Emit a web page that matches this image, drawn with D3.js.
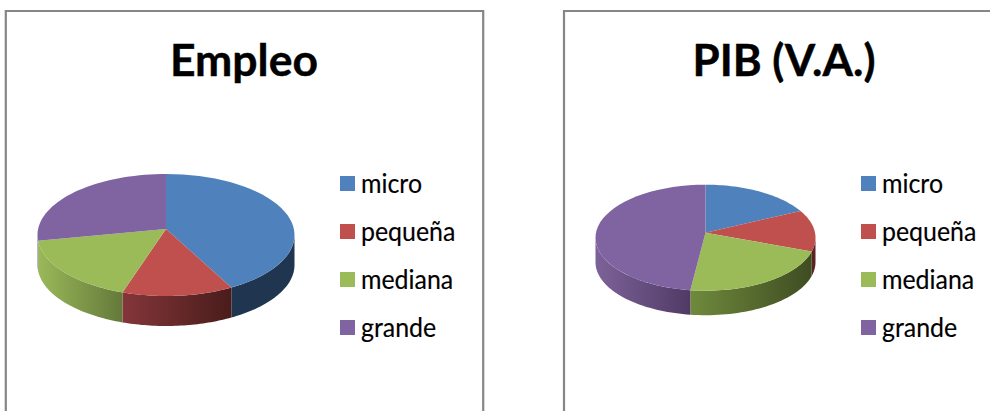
<!DOCTYPE html>
<html><head><meta charset="utf-8">
<script src="https://cdn.jsdelivr.net/npm/d3@7/dist/d3.min.js"></script>
<style>html,body{margin:0;padding:0;background:#fff}svg{display:block}text{font-family:Lato,"Open Sans",sans-serif;fill:#000}</style>
</head><body><svg id="c" width="990" height="411"></svg>
<script>
const categories = ["micro","pequeña","mediana","grande"];
const empleoValues = [41.5,14,18,26.5];
const pibValues = [16.6,12.6,23,47.8];
const topColors = ["#4f81bd","#c0504d","#9bbb59","#8064a2"];
const titles = ["Empleo","PIB (V.A.)"];

const svg = d3.select("#c");
const defs = svg.append("defs");
const charts = [
 {title:titles[0],values:empleoValues,frame:[5.8,11,483.2],tx:244,tw:148,cx:166,cy:235,ay:229,rx:128.5,ry:61,depth:30,lx:340,
  sides:[["#1f3550","#1f3550"],["#84363a","#4a1c1b"],["#9ab959","#64793a"],["#8064a2","#8064a2"]]},
 {title:titles[1],values:pibValues,frame:[564,11,1000],tx:784,tw:183,cx:705.5,cy:237.7,ay:232.7,rx:110,ry:53,depth:24.5,lx:861,
  sides:[["#4f81bd","#4f81bd"],["#5a2422","#5a2422"],["#6f8a3c","#3f4c22"],["#7d6299","#503a65"]]}
];
const legendY = d3.scalePoint().domain(categories).range([184,328]);
const pie = d3.pie().sort(null);
const line = d3.line();

charts.forEach((c,ci)=>{
  const [fx,fy,fr]=c.frame;
  svg.append("path").attr("d",`M${fx},420V${fy}H${fr}V420`).attr("fill","none").attr("stroke","#868686").attr("stroke-width",2.2);
  svg.append("text").attr("x",c.tx).attr("y",75.5).attr("text-anchor","middle").attr("font-size",43).attr("font-weight",700)
    .attr("stroke","#000").attr("stroke-width",0.4).attr("textLength",c.tw).attr("lengthAdjust","spacingAndGlyphs").text(c.title);

  const arcs = pie(c.values);
  const X = d3.scaleLinear().domain([-1,1]).range([c.cx-c.rx,c.cx+c.rx]);
  const Y = d3.scaleLinear().domain([-1,1]).range([c.cy+c.ry,c.cy-c.ry]);
  const pt = (t,dy=0)=>[X(Math.sin(t)),Y(Math.cos(t))+dy];
  const samples = (a,b)=>d3.range(0,41).map(i=>a+(b-a)*i/40);

  arcs.forEach((d,i)=>{
    const a=Math.max(d.startAngle,Math.PI/2), b=Math.min(d.endAngle,Math.PI*1.5);
    if(b<=a) return;
    const ts=samples(a,b);
    const id=`g${ci}${i}`;
    const g=defs.append("linearGradient").attr("id",id).attr("gradientUnits","userSpaceOnUse")
      .attr("x1",pt(a)[0]).attr("x2",pt(b)[0]).attr("y1",0).attr("y2",0);
    g.append("stop").attr("offset",0).attr("stop-color",c.sides[i][1]);
    g.append("stop").attr("offset",1).attr("stop-color",c.sides[i][0]);
    const poly=[...ts.map(t=>pt(t)),...ts.slice().reverse().map(t=>pt(t,c.depth))];
    svg.append("path").attr("d",line(poly)+"Z").attr("fill",`url(#${id})`);
  });
  arcs.forEach((d,i)=>{
    const poly=[[c.cx,c.ay],...samples(d.startAngle,d.endAngle).map(t=>pt(t))];
    svg.append("path").attr("d",line(poly)+"Z").attr("fill",topColors[i]);
  });
  categories.forEach((k,i)=>{
    const y=legendY(k);
    svg.append("rect").attr("x",c.lx).attr("y",y-8).attr("width",15).attr("height",15).attr("fill",topColors[i]);
    svg.append("text").attr("transform",`translate(${c.lx+21},${y+9}) scale(0.94,1)`).attr("font-size",26.5).attr("stroke","#000").attr("stroke-width",0.15).text(k);
  });
});
</script></body></html>
